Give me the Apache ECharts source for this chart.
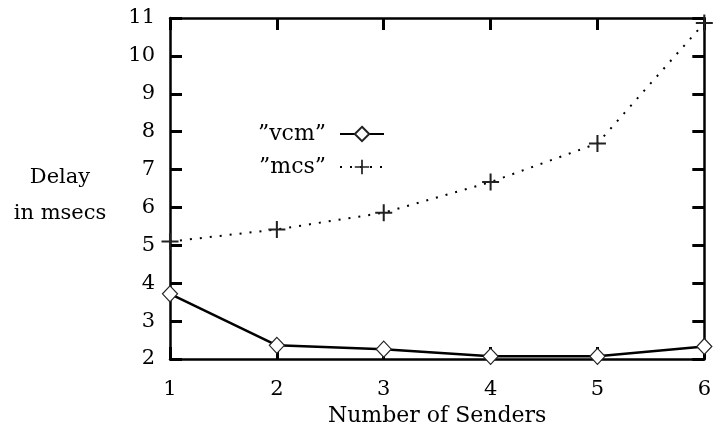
<!DOCTYPE html>
<html>
<head>
<meta charset="utf-8">
<script src="https://cdn.jsdelivr.net/npm/echarts@6/dist/echarts.min.js"></script>
<style>
  html, body { margin: 0; padding: 0; background: #fff; }
  #chart { width: 714px; height: 432px; }
</style>
</head>
<body>
<div id="chart"></div>
<script>
var senders = [1, 2, 3, 4, 5, 6];
var vcmDelay = [3.72, 2.36, 2.26, 2.07, 2.07, 2.33];
var mcsDelay = [5.1, 5.42, 5.86, 6.67, 7.69, 10.87];
var yLabelLines = ["Delay", "in msecs"];
var xLabelText = "Number of Senders";

var font = "DejaVu Serif";
var plus = "path://M4.4,0H5.6V4.4H10V5.6H5.6V10H4.4V5.6H0V4.4H4.4Z";

function pairs(xs, ys) {
  var out = [];
  for (var i = 0; i < xs.length; i++) out.push([xs[i], ys[i]]);
  return out;
}

var chart = echarts.init(document.getElementById("chart"));

var axisCommon = {
  axisLine: { show: true, onZero: false, lineStyle: { color: "#000", width: 2.5 } },
  axisTick: { show: true, inside: true, length: 12, lineStyle: { color: "#000", width: 3 } },
  splitLine: { show: false }
};

chart.setOption({
  animation: false,
  backgroundColor: "#fff",
  textStyle: { fontFamily: font, color: "#000" },
  grid: { left: 170, right: 6, top: 18, bottom: 68 },
  legend: {
    orient: "vertical",
    right: 324,
    top: 118,
    align: "right",
    itemWidth: 44,
    itemHeight: 18,
    itemGap: 11,
    textStyle: { fontFamily: font, fontSize: 22, color: "#000", padding: [0, 9, 0, 0] },
    data: ["\u201dvcm\u201d", "\u201dmcs\u201d"]
  },
  graphic: [
    {
      type: "text", x: 60, y: 178,
      style: { text: yLabelLines[0], fontFamily: font, fontSize: 21, fill: "#000", align: "center", verticalAlign: "middle" }
    },
    {
      type: "text", x: 60, y: 214,
      style: { text: yLabelLines[1], fontFamily: font, fontSize: 21, fill: "#000", align: "center", verticalAlign: "middle" }
    }
  ],
  xAxis: [
    Object.assign({
      type: "value", min: 1, max: 6, interval: 1, position: "bottom",
      name: xLabelText, nameLocation: "middle", nameGap: 46,
      nameTextStyle: { fontFamily: font, fontSize: 22, color: "#000" },
      axisLabel: { fontFamily: font, fontSize: 21, color: "#000", margin: 20 }
    }, axisCommon),
    Object.assign({
      type: "value", min: 1, max: 6, interval: 1, position: "top",
      axisLabel: { show: false }
    }, axisCommon)
  ],
  yAxis: [
    Object.assign({
      type: "value", min: 2, max: 11, interval: 1, position: "left",
      axisLabel: { fontFamily: font, fontSize: 21, color: "#000", margin: 15 }
    }, axisCommon),
    Object.assign({
      type: "value", min: 2, max: 11, interval: 1, position: "right",
      axisLabel: { show: false }
    }, axisCommon)
  ],
  series: [
    {
      name: "\u201dvcm\u201d",
      type: "line",
      data: pairs(senders, vcmDelay),
      symbol: "diamond",
      symbolSize: [15, 16],
      showAllSymbol: true,
      lineStyle: { color: "#000", width: 2.5 },
      itemStyle: { color: "#fff", borderColor: "#222", borderWidth: 1.2 },
      z: 3
    },
    {
      name: "\u201dmcs\u201d",
      type: "line",
      data: pairs(senders, mcsDelay),
      symbol: plus,
      symbolSize: 17,
      showAllSymbol: true,
      lineStyle: { color: "#000", width: 2, type: [2, 8] },
      itemStyle: { color: "#222", borderWidth: 0 },
      z: 3
    }
  ]
});
</script>
</body>
</html>
